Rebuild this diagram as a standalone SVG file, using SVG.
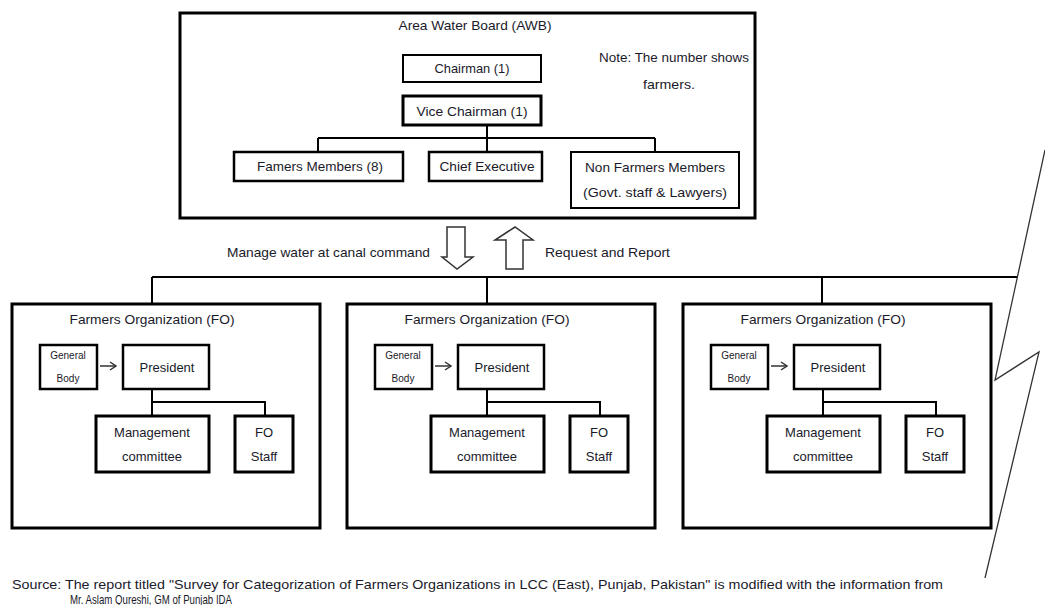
<svg xmlns="http://www.w3.org/2000/svg" width="1045" height="605" viewBox="0 0 1045 605">
<style>
text{font-family:"Liberation Sans",Arial,sans-serif;fill:#1a1a2a;font-size:13px}
.c{text-anchor:middle}
.box{fill:#fff;stroke:#000;stroke-width:2.5}
.thin{fill:#fff;stroke:#000;stroke-width:2}
.big{fill:#fff;stroke:#000;stroke-width:3}
.ln{fill:none;stroke:#000;stroke-width:2}
.sm{font-size:10px}
.blk{fill:#fff;stroke:#333;stroke-width:1.5}
</style>
<defs>
<marker id="chev" markerWidth="8" markerHeight="10" refX="7" refY="5" orient="auto" markerUnits="userSpaceOnUse">
<path d="M1,1 L7,5 L1,9" fill="none" stroke="#333" stroke-width="1.5"/>
</marker>
<g id="fo">
<rect class="big" x="0" y="0" width="308" height="224"/>
<text class="c" x="140" y="20" textLength="165" lengthAdjust="spacingAndGlyphs">Farmers Organization (FO)</text>
<rect class="box" x="28" y="41" width="57" height="44"/>
<text class="c sm" x="56" y="55">General</text>
<text class="c sm" x="56" y="78">Body</text>
<line x1="88" y1="62" x2="104" y2="62" stroke="#333" stroke-width="1.5" marker-end="url(#chev)"/>
<rect class="box" x="111" y="41" width="86" height="44"/>
<text class="c" x="155" y="68" font-size="14">President</text>
<path class="ln" d="M140,85 V112 M140,98 H253 V112"/>
<rect class="big" x="84" y="112" width="113" height="56"/>
<text class="c" x="140" y="133" font-size="14">Management</text>
<text class="c" x="140" y="157" font-size="14">committee</text>
<rect class="big" x="223" y="112" width="58" height="56"/>
<text class="c" x="252" y="133" font-size="14">FO</text>
<text class="c" x="252" y="157" font-size="14">Staff</text>
</g>
</defs>
<g id="awb">
<rect class="big" x="180" y="13" width="575" height="205"/>
<text class="c" x="475" y="30" textLength="153" lengthAdjust="spacingAndGlyphs">Area Water Board (AWB)</text>
<text x="599" y="62" textLength="150" lengthAdjust="spacingAndGlyphs">Note: The number shows</text>
<text x="643" y="89" textLength="52" lengthAdjust="spacingAndGlyphs">farmers.</text>
</g>
<g id="chairman">
<rect class="thin" x="403" y="55" width="138" height="27"/>
<text class="c" x="472" y="73" textLength="75" lengthAdjust="spacingAndGlyphs">Chairman (1)</text>
</g>
<g id="vice-chairman">
<rect class="big" x="403" y="96" width="138" height="29" stroke-width="3.5"/>
<text class="c" x="472" y="116" textLength="111" lengthAdjust="spacingAndGlyphs">Vice Chairman (1)</text>
</g>
<g id="farmers-members">
<rect class="box" x="234" y="152" width="169" height="29"/>
<text class="c" x="320" y="171" textLength="126" lengthAdjust="spacingAndGlyphs">Famers Members (8)</text>
</g>
<g id="chief-executive">
<rect class="box" x="429" y="152" width="113" height="29"/>
<text class="c" x="487" y="171" textLength="95" lengthAdjust="spacingAndGlyphs">Chief Executive</text>
</g>
<g id="non-farmers">
<rect class="thin" x="571" y="152" width="168" height="56"/>
<text class="c" x="655" y="172" textLength="140" lengthAdjust="spacingAndGlyphs">Non Farmers Members</text>
<text class="c" x="655" y="197" textLength="144" lengthAdjust="spacingAndGlyphs">(Govt. staff &amp; Lawyers)</text>
</g>
<g id="fo1"><use href="#fo" transform="translate(12,304)"/></g>
<g id="fo2"><use href="#fo" transform="translate(347,304)"/></g>
<g id="fo3"><use href="#fo" transform="translate(683,304)"/></g>
<g id="connectors">
<path class="ln" d="M487,125 V152 M318,138 H655 M318,138 V152 M655,138 V152"/>
<path class="ln" d="M152,277 H1018 M152,277 V304 M487,277 V304 M822,277 V304"/>
<path class="blk" d="M447,227 H465 V257 H473 L457,269 L442,257 H447 Z"/>
<path class="blk" d="M506,269 H523 V240 H533 L515,227 L495,240 H506 Z"/>
<path d="M1045,150 L995,380 L1039,352 L985,578" fill="none" stroke="#333" stroke-width="1.3"/>
</g>
<g id="labels">
<text x="227" y="257" textLength="203" lengthAdjust="spacingAndGlyphs">Manage water at canal command</text>
<text x="545" y="257" textLength="125" lengthAdjust="spacingAndGlyphs">Request and Report</text>
<text x="12" y="589" textLength="931" lengthAdjust="spacingAndGlyphs">Source: The report titled "Survey for Categorization of Farmers Organizations in LCC (East), Punjab, Pakistan" is modified with the information from</text>
<text x="70" y="604" textLength="162" lengthAdjust="spacingAndGlyphs">Mr. Aslam Qureshi, GM of Punjab IDA</text>
</g>
</svg>
